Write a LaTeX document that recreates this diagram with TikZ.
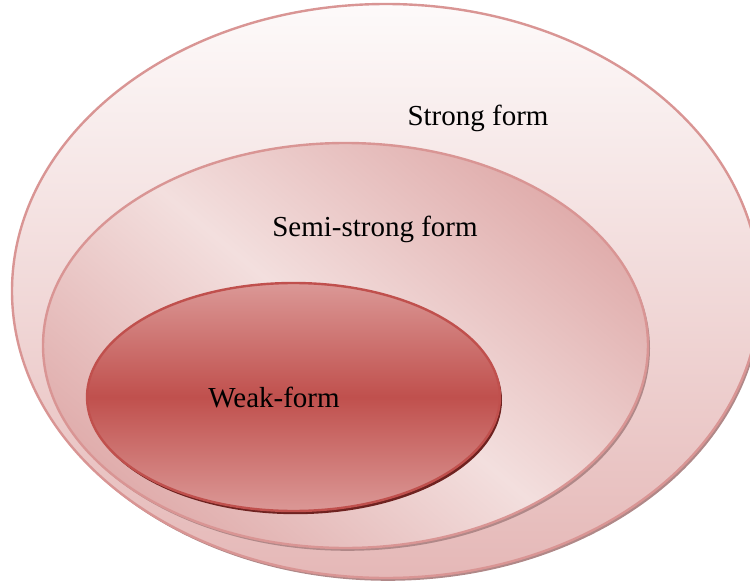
\documentclass[tikz,border=0pt]{standalone}
\usepackage{fontspec}
\setmainfont{Liberation Serif}
\usetikzlibrary{shapes.geometric,shadows}

\definecolor{rimpink}{HTML}{D99594}
\definecolor{rimred}{HTML}{C0504D}
\definecolor{palepink}{HTML}{FDFAFA}
\definecolor{rosepink}{HTML}{E5B8B7}
\definecolor{dustpink}{HTML}{E0ADAC}
\definecolor{lightpink}{HTML}{F3DFDE}
\definecolor{softred}{HTML}{DB9896}
\definecolor{shadowgrey}{HTML}{B08888}
\definecolor{shadowred}{HTML}{6E2220}

\begin{document}
\begin{tikzpicture}[x=.5pt,y=.5pt,
  form/.style={ellipse,inner sep=0pt,line width=1.2pt},
  lbl/.style={font=\fontsize{14.5}{17}\selectfont}]
  \useasboundingbox (0,0) rectangle (750,580);
  \clip (0,0) rectangle (750,580);
  % the three nested forms, largest first
  \node[form,draw=rimpink,top color=palepink,bottom color=rosepink,
        minimum width=374pt,minimum height=287pt,
        drop shadow={shadow xshift=1pt,shadow yshift=-1.4pt,fill=shadowgrey,opacity=1}]
        (strong) at (386,289) {};
  \node[form,draw=rimpink,top color=dustpink,bottom color=dustpink,middle color=lightpink,
        shading angle=-40,
        minimum width=302.5pt,minimum height=202.5pt,
        drop shadow={shadow xshift=1pt,shadow yshift=-1.4pt,fill=shadowgrey,opacity=1}]
        (semi) at (345.5,234.5) {};
  \node[form,draw=rimred,top color=softred,bottom color=softred,middle color=rimred,
        minimum width=206.5pt,minimum height=114pt,
        drop shadow={shadow xshift=1pt,shadow yshift=-1.6pt,fill=shadowred,opacity=1}]
        (weak) at (293.5,183) {};
  % labels
  \node[lbl] (strongtxt) at (478,462) {Strong form};
  \node[lbl] (semitxt)   at (375,351) {Semi-strong form};
  \node[lbl] (weaktxt)   at (274,182) {Weak-form};
\end{tikzpicture}
\end{document}
